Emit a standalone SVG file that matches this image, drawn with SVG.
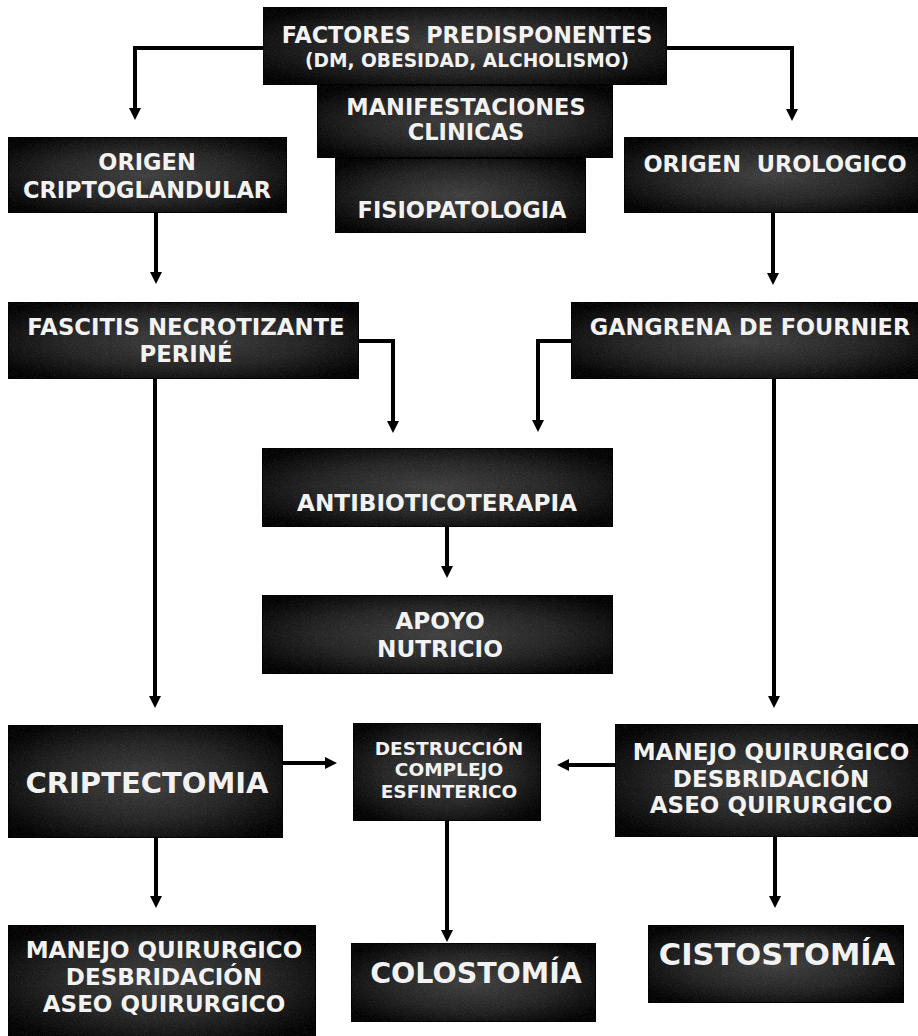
<svg xmlns="http://www.w3.org/2000/svg" width="918" height="1036" viewBox="0 0 918 1036">
<defs>
<radialGradient id="bg" cx="0.5" cy="0.5" r="0.62">
<stop offset="0" stop-color="#4e4e4e"/>
<stop offset="0.55" stop-color="#333"/>
<stop offset="1" stop-color="#111"/>
</radialGradient>
<filter id="tex" x="0" y="0" width="1" height="1" color-interpolation-filters="sRGB">
<feTurbulence type="fractalNoise" baseFrequency="0.9" numOctaves="2" seed="4" result="n"/>
<feColorMatrix in="n" type="saturate" values="0" result="g"/>
<feComposite in="SourceGraphic" in2="g" operator="arithmetic" k1="0" k2="1" k3="0.22" k4="-0.11" result="m"/>
<feComposite in="m" in2="SourceAlpha" operator="in"/>
</filter>
<marker id="ah" markerUnits="userSpaceOnUse" markerWidth="12" markerHeight="12" refX="2" refY="6" orient="auto">
<path d="M0,0 L12,6 L0,12 z" fill="#000"/>
</marker>
</defs>
<style>
.box{fill:url(#bg);stroke:#0a0a0a;stroke-width:2;filter:url(#tex)}
.t{font-family:"DejaVu Sans",Verdana,sans-serif;font-weight:bold;fill:#f2f2f2;text-anchor:middle}
.c{fill:none;stroke:#000;stroke-width:4;marker-end:url(#ah)}
</style>
<rect width="918" height="1036" fill="#fff"/>
<g id="connectors">
<path class="c" d="M263,48 H135 V110"/>
<path class="c" d="M667,48 H792 V111"/>
<path class="c" d="M156,213 V274"/>
<path class="c" d="M773,213 V275"/>
<path class="c" d="M359,341 H393 V423"/>
<path class="c" d="M571,341 H538 V422"/>
<path class="c" d="M155,379 V698"/>
<path class="c" d="M774,379 V698"/>
<path class="c" d="M447,527 V568"/>
<path class="c" d="M283,763 H327"/>
<path class="c" d="M615,765 H567"/>
<path class="c" d="M156,838 V898"/>
<path class="c" d="M447,821 V932"/>
<path class="c" d="M775,837 V898"/>
</g>
<g id="fisiopatologia">
<rect class="box" x="335" y="158" width="251" height="75"/>
<text class="t" x="462" y="218" font-size="22.5">FISIOPATOLOGIA</text>
</g>
<g id="manifestaciones">
<rect class="box" x="317" y="85" width="296" height="73"/>
<text class="t" x="466" y="115" font-size="22.5">MANIFESTACIONES</text>
<text class="t" x="466" y="140" font-size="22.5">CLINICAS</text>
</g>
<g id="factores">
<rect class="box" x="263" y="7" width="404" height="78"/>
<text class="t" x="467" y="43" font-size="22.3" xml:space="preserve">FACTORES  PREDISPONENTES</text>
<text class="t" x="467" y="67" font-size="18.6">(DM, OBESIDAD, ALCHOLISMO)</text>
</g>
<g id="origen-criptoglandular">
<rect class="box" x="8" y="137" width="279" height="76"/>
<text class="t" x="147" y="170" font-size="22.5">ORIGEN</text>
<text class="t" x="147" y="198" font-size="22.5">CRIPTOGLANDULAR</text>
</g>
<g id="origen-urologico">
<rect class="box" x="624" y="137" width="296" height="76"/>
<text class="t" x="775" y="172" font-size="22.5" xml:space="preserve">ORIGEN  UROLOGICO</text>
</g>
<g id="fascitis">
<rect class="box" x="8" y="302" width="351" height="77"/>
<text class="t" x="186" y="335" font-size="22.8">FASCITIS NECROTIZANTE</text>
<text class="t" x="186" y="362" font-size="22.8">PERINÉ</text>
</g>
<g id="gangrena">
<rect class="box" x="571" y="302" width="349" height="77"/>
<text class="t" x="750" y="335" font-size="22.4">GANGRENA DE FOURNIER</text>
</g>
<g id="antibioticoterapia">
<rect class="box" x="262" y="448" width="351" height="79"/>
<text class="t" x="437" y="511" font-size="23.2">ANTIBIOTICOTERAPIA</text>
</g>
<g id="apoyo-nutricio">
<rect class="box" x="262" y="595" width="351" height="79"/>
<text class="t" x="440" y="629" font-size="23.2">APOYO</text>
<text class="t" x="440" y="657" font-size="23.2">NUTRICIO</text>
</g>
<g id="criptectomia">
<rect class="box" x="8" y="725" width="275" height="113"/>
<text class="t" x="147" y="793" font-size="29">CRIPTECTOMIA</text>
</g>
<g id="destruccion">
<rect class="box" x="353" y="723" width="188" height="98"/>
<text class="t" x="449" y="755" font-size="18.5">DESTRUCCIÓN</text>
<text class="t" x="449" y="776" font-size="18.5">COMPLEJO</text>
<text class="t" x="449" y="798" font-size="18.5">ESFINTERICO</text>
</g>
<g id="manejo-derecha">
<rect class="box" x="615" y="724" width="305" height="113"/>
<text class="t" x="771" y="760" font-size="23">MANEJO QUIRURGICO</text>
<text class="t" x="771" y="787" font-size="23">DESBRIDACIÓN</text>
<text class="t" x="771" y="813" font-size="23">ASEO QUIRURGICO</text>
</g>
<g id="manejo-izquierda">
<rect class="box" x="8" y="925" width="308" height="113"/>
<text class="t" x="164" y="958" font-size="23">MANEJO QUIRURGICO</text>
<text class="t" x="164" y="985" font-size="23">DESBRIDACIÓN</text>
<text class="t" x="164" y="1012" font-size="23">ASEO QUIRURGICO</text>
</g>
<g id="colostomia">
<rect class="box" x="351" y="943" width="245" height="79"/>
<text class="t" x="476" y="983" font-size="28.5">COLOSTOMÍA</text>
</g>
<g id="cistostomia">
<rect class="box" x="648" y="925" width="256" height="78"/>
<text class="t" x="777" y="965" font-size="30.5">CISTOSTOMÍA</text>
</g>
</svg>
